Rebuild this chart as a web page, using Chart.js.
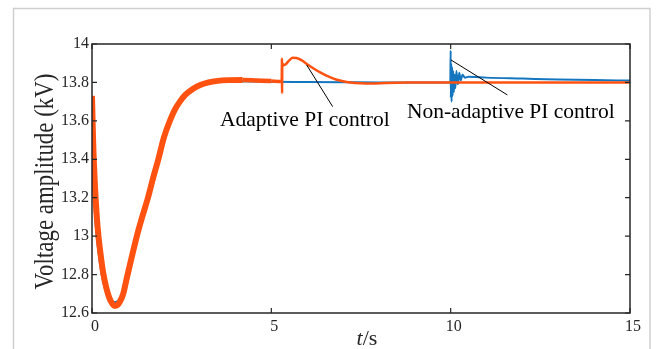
<!DOCTYPE html>
<html><head><meta charset="utf-8">
<script src="https://cdn.jsdelivr.net/npm/chart.js@4.4.1/dist/chart.umd.min.js"></script>
<style>html,body{margin:0;padding:0;background:#fff;overflow:hidden}#wrap{width:656px;height:349px}</style>
</head><body><div id="wrap"><canvas id="c" width="656" height="349"></canvas></div>
<script>
// ---- data ----
const tAdaptive = [0,0.03,0.08,0.13,0.18,0.25,0.32,0.4,0.48,0.56,0.63,0.7,0.78,0.87,0.98,1.1,1.25,1.4,1.56,1.7,1.85,2.0,2.15,2.3,2.45,2.6,2.8,3.0,3.25,3.5,3.8,4.2,4.6,5.0,5.29,5.295,5.3,5.305,5.33,5.4,5.5,5.6,5.7,5.85,6.0,6.2,6.4,6.6,6.8,7.0,7.2,7.5,7.8,8.2,8.8,9.5,10,11,12,13,14,15];
const vAdaptive = [13.73,13.50,13.27,13.11,13.00,12.89,12.80,12.73,12.68,12.65,12.637,12.64,12.66,12.70,12.79,12.885,13.00,13.10,13.20,13.30,13.40,13.51,13.59,13.655,13.70,13.735,13.765,13.785,13.80,13.808,13.812,13.813,13.81,13.807,13.805,13.925,13.745,13.90,13.89,13.895,13.915,13.928,13.927,13.915,13.895,13.87,13.848,13.83,13.815,13.806,13.80,13.796,13.795,13.797,13.799,13.80,13.80,13.80,13.80,13.80,13.80,13.80];
const tNonAdaptive = [0,0.03,0.08,0.13,0.2,0.27,0.35,0.43,0.5,0.58,0.65,0.72,0.8,0.9,1.0,1.1,1.25,1.4,1.56,1.7,1.85,2.0,2.15,2.3,2.45,2.6,2.8,3.0,3.25,3.5,4.0,4.5,5.0,6.0,7.0,8.0,9.0,9.99,10.0,10.005,10.015,10.025,10.04,10.055,10.07,10.09,10.11,10.13,10.16,10.2,10.24,10.28,10.33,10.4,10.5,10.7,11,12,13,14,15];
const vNonAdaptive = [13.50,13.30,13.12,13.00,12.89,12.80,12.735,12.69,12.67,12.658,12.657,12.662,12.68,12.72,12.80,12.88,12.99,13.09,13.19,13.29,13.39,13.50,13.58,13.65,13.695,13.73,13.76,13.78,13.795,13.803,13.806,13.805,13.803,13.802,13.801,13.80,13.80,13.80,13.965,13.72,13.90,13.70,13.88,13.73,13.86,13.75,13.84,13.77,13.86,13.79,13.85,13.81,13.84,13.825,13.83,13.828,13.825,13.82,13.815,13.812,13.81];
const xTicks = [0,5,10,15];
const yTicks = [12.6,12.8,13.0,13.2,13.4,13.6,13.8,14.0];
const labelTexts = ['Adaptive PI control','Non-adaptive PI control'];
const xTitle = ['t','/s'];
const yTitle = 'Voltage amplitude (kV)';

const SERIF = "'Liberation Serif','Times New Roman',serif";
const INK = '#262626';

const deco = {
  id:'deco',
  beforeDraw(chart){
    const ctx = chart.ctx;
    ctx.save();
    ctx.fillStyle='#fff'; ctx.fillRect(0,0,chart.width,chart.height);
    ctx.strokeStyle='#cfcfcf'; ctx.lineWidth=1.5;
    ctx.strokeRect(13.5,8.5,636.5,360);
    ctx.restore();
  },
  afterDraw(chart){
    const {ctx, chartArea:a, scales:{x,y}} = chart;
    ctx.save();
    ctx.strokeStyle=INK; ctx.lineWidth=1.5;
    ctx.strokeRect(a.left,a.top,a.right-a.left,a.bottom-a.top);
    ctx.lineWidth=1.2;
    ctx.beginPath();
    xTicks.forEach(v=>{const p=x.getPixelForValue(v); ctx.moveTo(p,a.bottom); ctx.lineTo(p,a.bottom-5); ctx.moveTo(p,a.top); ctx.lineTo(p,a.top+5);});
    yTicks.forEach(v=>{const p=y.getPixelForValue(v); ctx.moveTo(a.left,p); ctx.lineTo(a.left+5,p); ctx.moveTo(a.right,p); ctx.lineTo(a.right-5,p);});
    ctx.stroke();
    // leader lines (data coordinates)
    const leaders = [[5.985,13.891,6.71,13.674],[10.008,13.917,11.58,13.735]];
    ctx.strokeStyle='#000'; ctx.lineWidth=1;
    ctx.beginPath();
    leaders.forEach(l=>{ctx.moveTo(x.getPixelForValue(l[0]),y.getPixelForValue(l[1])); ctx.lineTo(x.getPixelForValue(l[2]),y.getPixelForValue(l[3]));});
    ctx.stroke();
    // labels
    ctx.fillStyle='#000'; ctx.font='21.5px '+SERIF; ctx.textBaseline='alphabetic'; ctx.textAlign='left';
    const lpos = [[3.57,13.573],[8.78,13.615]];
    labelTexts.forEach((s,i)=>ctx.fillText(s,x.getPixelForValue(lpos[i][0]),y.getPixelForValue(lpos[i][1])));
    // x title
    ctx.fillStyle=INK;
    const cx=(a.left+a.right)/2+6, by=a.bottom+32;
    ctx.font='italic 22px '+SERIF; const w1=ctx.measureText(xTitle[0]).width;
    ctx.font='22px '+SERIF; const w2=ctx.measureText(xTitle[1]).width;
    let sx=cx-(w1+w2)/2;
    ctx.font='italic 22px '+SERIF; ctx.fillText(xTitle[0],sx,by);
    ctx.font='22px '+SERIF; ctx.fillText(xTitle[1],sx+w1,by);
    // y title (glyphs taller than wide, as in the reference)
    ctx.translate(53,(a.top+a.bottom)/2+3); ctx.rotate(-Math.PI/2);
    ctx.font='27px '+SERIF; ctx.textAlign='center';
    const wt=ctx.measureText(yTitle).width; ctx.scale(216/wt,1);
    ctx.fillText(yTitle,0,0);
    ctx.restore();
  }
};

const fmt = v => String(Number(v.toFixed(1)));
new Chart(document.getElementById('c'),{
  type:'line',
  data:{datasets:[
    {label:'Adaptive PI control', data:tAdaptive.map((t,i)=>({x:t,y:vAdaptive[i]})), borderColor:'#ff5210', pointRadius:0, borderWidth:2.5,
     cubicInterpolationMode:'monotone', borderJoinStyle:'round',
     segment:{borderWidth:c=>{const t=c.p0.parsed.x; return t<4.2?6:(t<5.0?4.5:(t<5.29?3.5:2.5));}}},
    {label:'Non-adaptive PI control', data:tNonAdaptive.map((t,i)=>({x:t,y:vNonAdaptive[i]})), borderColor:'#1576c0', pointRadius:0, borderWidth:2,
     cubicInterpolationMode:'monotone'}
  ]},
  options:{
    responsive:false, animation:false, devicePixelRatio:1,
    layout:{padding:{top:44,right:26,left:0,bottom:0}},
    plugins:{legend:{display:false},tooltip:{enabled:false}},
    scales:{
      x:{type:'linear',min:0,max:15,
         afterBuildTicks:s=>{s.ticks=xTicks.map(v=>({value:v}));},
         afterFit:s=>{s.height=36;},
         grid:{display:false,drawTicks:false},border:{display:false},
         ticks:{font:{family:SERIF,size:16},color:INK,padding:4,labelOffset:3,maxRotation:0,autoSkip:false}},
      y:{type:'linear',min:12.6,max:14,
         afterBuildTicks:s=>{s.ticks=yTicks.map(v=>({value:v}));},
         afterFit:s=>{s.width=92;},
         grid:{display:false,drawTicks:false},border:{display:false},
         ticks:{font:{family:SERIF,size:16},color:INK,padding:3,autoSkip:false,callback:v=>fmt(v)}}
    }
  },
  plugins:[deco]
});
</script></body></html>
